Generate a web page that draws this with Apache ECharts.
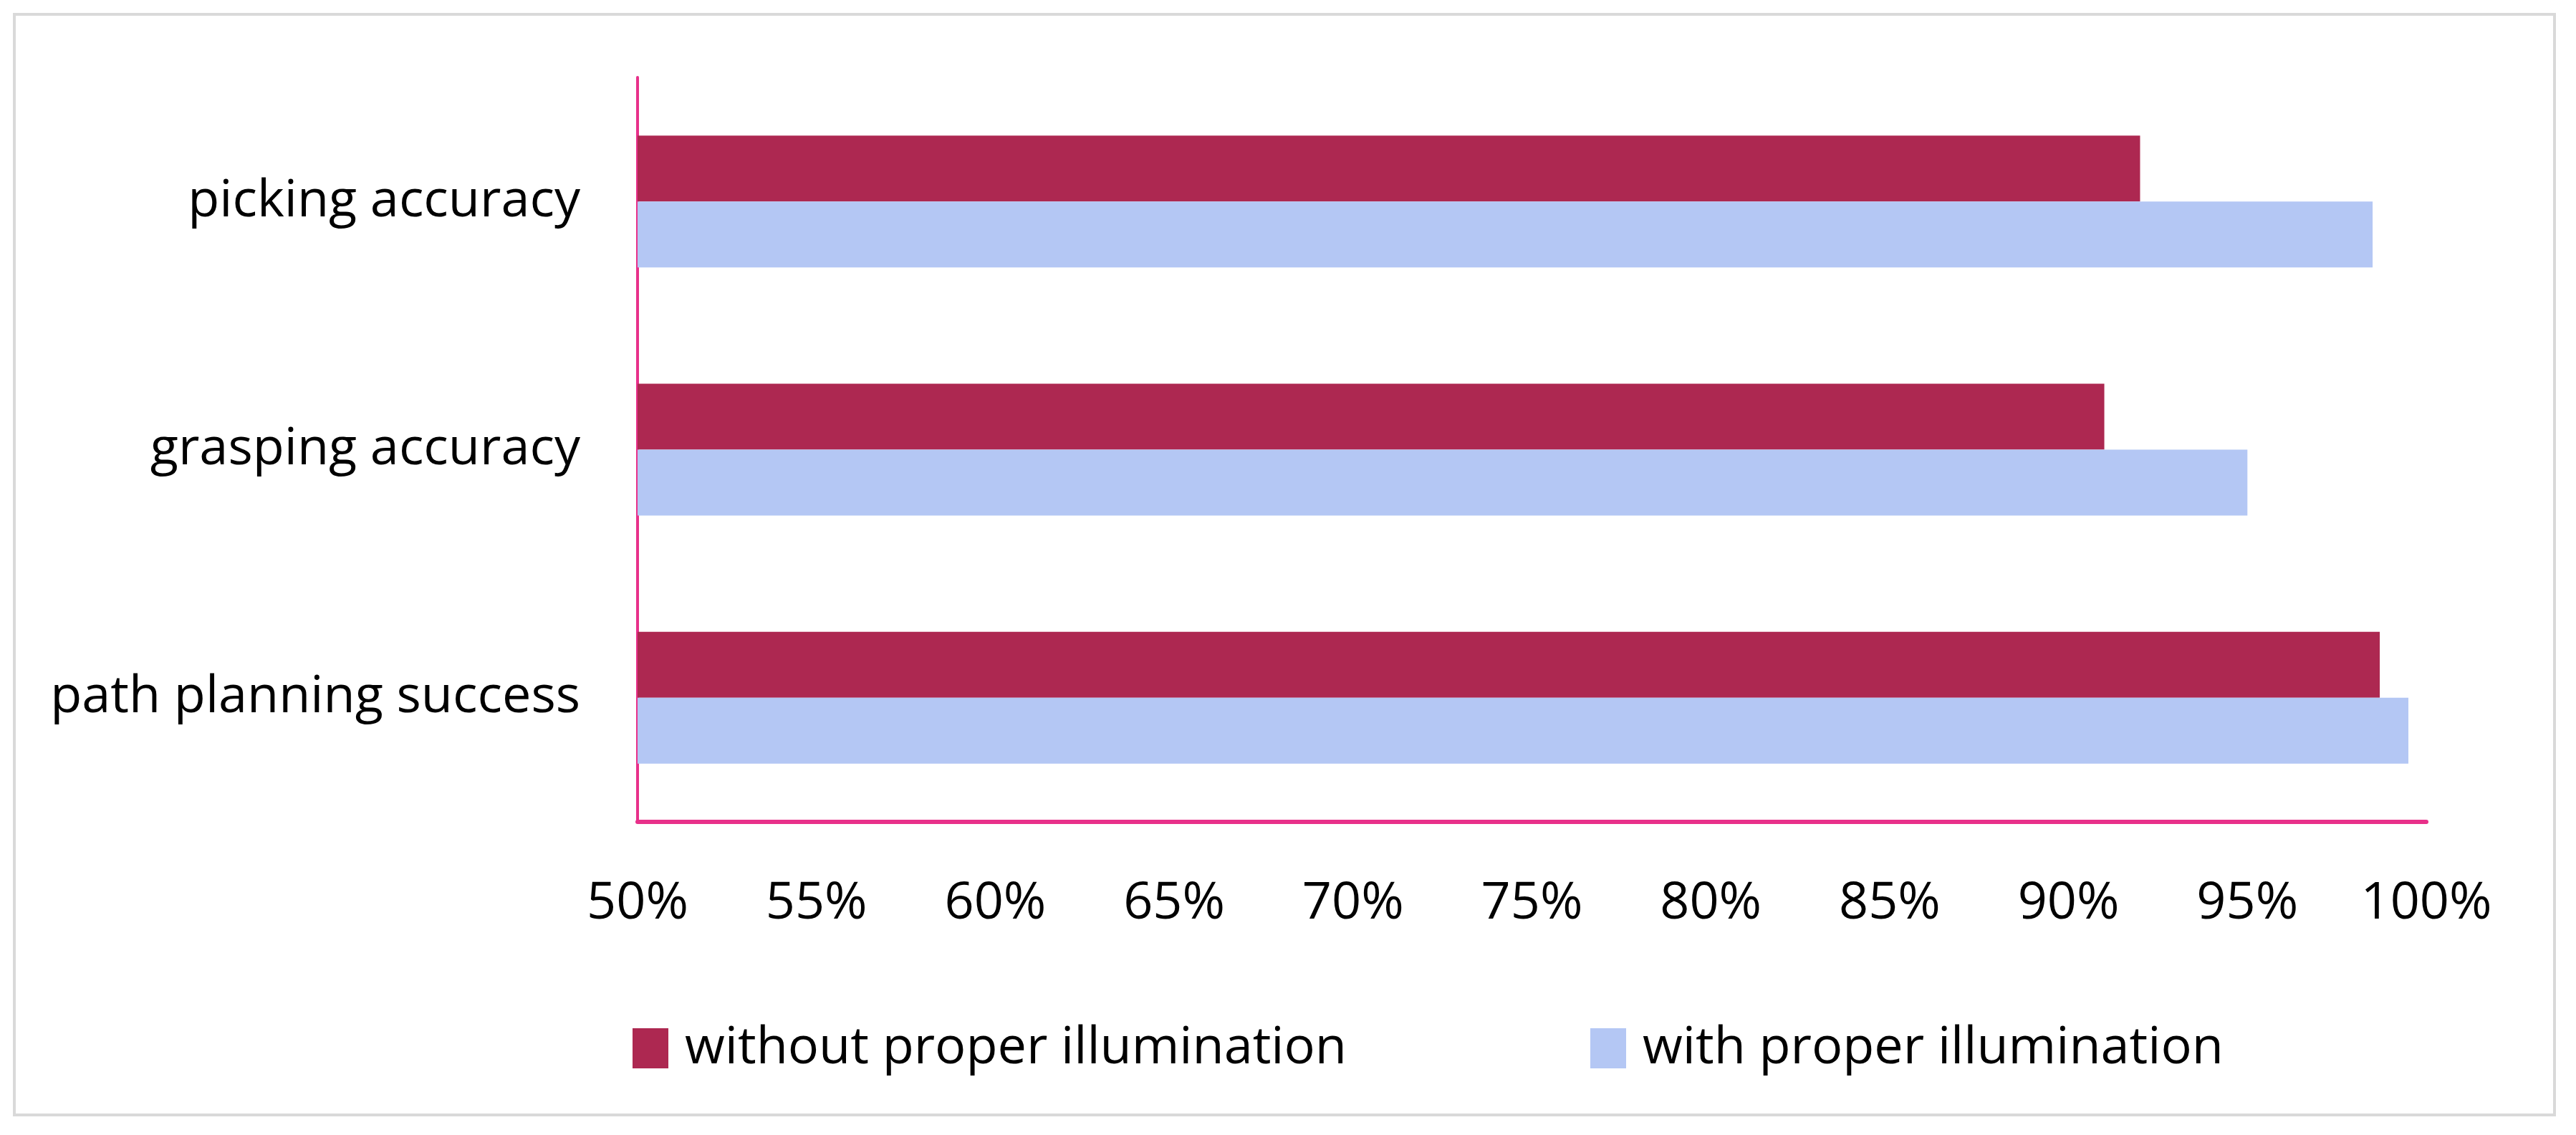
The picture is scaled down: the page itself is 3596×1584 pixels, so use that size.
<!DOCTYPE html>
<html>
<head>
<meta charset="UTF-8">
<script src="https://cdn.jsdelivr.net/npm/echarts@6/dist/echarts.min.js"></script>
<style>
  html, body { margin: 0; padding: 0; background: #fff; }
  #frame { position: absolute; left: 18px; top: 18px; width: 3550px; height: 1540px; border: 4px solid #d9d9d9; box-sizing: border-box; }
  #chart { width: 3596px; height: 1584px; }
</style>
</head>
<body>
<div id="frame"></div>
<div id="chart"></div>
<script>
var categories = ['picking accuracy', 'grasping accuracy', 'path planning success'];
var withoutIllum = [92.0, 91.0, 98.7];
var withIllum = [98.5, 95.0, 99.5];

var font = '"Open Sans", "Noto Sans", sans-serif';
var chart = echarts.init(document.getElementById('chart'));
chart.setOption({
  animation: false,
  grid: { left: 890, right: 209, top: 108, bottom: 437 },
  legend: {
    bottom: 80,
    left: 878,
    itemWidth: 50, itemHeight: 56, itemGap: 340,
    icon: 'rect',
    textStyle: { fontSize: 72, fontFamily: font, color: '#000', padding: [0, 0, 0, 18] },
    data: ['without proper illumination', 'with proper illumination']
  },
  xAxis: {
    type: 'value', min: 50, max: 100, interval: 5,
    axisLine: { show: true, lineStyle: { color: '#e8308a', width: 6 } },
    axisTick: { show: false },
    splitLine: { show: false },
    axisLabel: { formatter: '{value}%', fontSize: 72, fontFamily: font, color: '#000', margin: 78 }
  },
  yAxis: {
    type: 'category', inverse: true, data: categories,
    axisLine: { show: true, lineStyle: { color: '#e8308a', width: 4 } },
    axisTick: { show: false },
    axisLabel: { fontSize: 72, fontFamily: font, color: '#000', margin: 80 }
  },
  series: [
    { name: 'without proper illumination', type: 'bar', data: withoutIllum, barWidth: 92, barGap: '0%', itemStyle: { color: '#ad2851' } },
    { name: 'with proper illumination', type: 'bar', data: withIllum, barWidth: 92, barGap: '0%', itemStyle: { color: '#b4c7f4' } }
  ]
});
</script>
</body>
</html>
